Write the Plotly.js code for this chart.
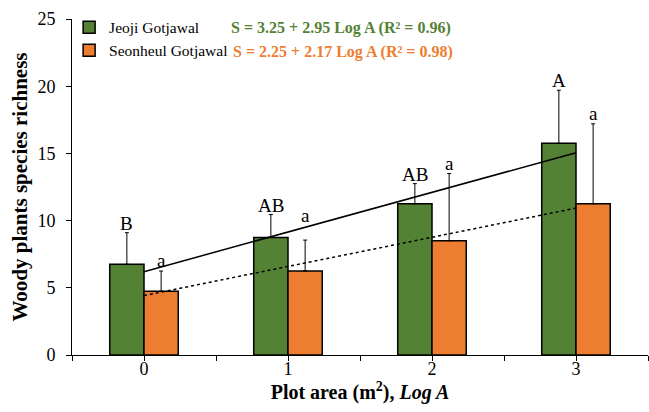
<!DOCTYPE html>
<html>
<head>
<meta charset="utf-8">
<script src="https://cdn.plot.ly/plotly-3.0.1.min.js"></script>
<style>html,body{margin:0;padding:0;background:#fff;}#chart{width:649px;height:412px;}</style>
</head>
<body>
<div id="chart"></div>
<script>
// ---- data ----
const categories = [0, 1, 2, 3];
const tickLabels = ['0', '1', '2', '3'];
const seriesNames = ['Jeoji Gotjawal', 'Seonheul Gotjawal'];
const jeojiValues = [6.75, 8.75, 11.25, 15.75];
const jeojiErrors = [2.35, 1.7, 1.5, 3.95];
const seonheulValues = [4.75, 6.25, 8.5, 11.25];
const seonheulErrors = [1.5, 2.3, 5.0, 5.95];
const jeojiLetters = ['B', 'AB', 'AB', 'A'];
const seonheulLetters = ['a', 'a', 'a', 'a'];
const trendX = [0, 3];
const jeojiTrend = [6.2, 15.05];
const seonheulTrend = [4.42, 10.93];
const jeojiEquation = 'S = 3.25 + 2.95 Log A (R² = 0.96)';
const seonheulEquation = 'S = 2.25 + 2.17 Log A (R² = 0.98)';

// ---- styles ----
const GREEN = '#548235';
const ORANGE = '#ED7D31';
const FONT = 'Liberation Serif';
const BW = 0.238;

const zeros = categories.map(() => 0);

const traces = [
  {
    type: 'bar', name: seriesNames[0], x: categories, y: jeojiValues,
    width: BW, offset: -BW,
    marker: {color: GREEN, line: {color: 'black', width: 1.5}},
    error_y: {type: 'data', symmetric: false, array: jeojiErrors, arrayminus: zeros,
              color: 'black', thickness: 1, width: 2}
  },
  {
    type: 'bar', name: seriesNames[1], x: categories, y: seonheulValues,
    width: BW, offset: 0,
    marker: {color: ORANGE, line: {color: 'black', width: 1.5}},
    error_y: {type: 'data', symmetric: false, array: seonheulErrors, arrayminus: zeros,
              color: 'black', thickness: 1, width: 2}
  },
  {
    type: 'scatter', mode: 'lines', x: trendX, y: jeojiTrend, showlegend: false,
    line: {color: 'black', width: 1.5}, hoverinfo: 'skip'
  },
  {
    type: 'scatter', mode: 'lines', x: trendX, y: seonheulTrend, showlegend: false,
    line: {color: 'black', width: 1.5, dash: 'dot'}, hoverinfo: 'skip'
  }
];

const annotations = [];
categories.forEach((c, i) => {
  annotations.push({
    x: c - BW / 2, y: jeojiValues[i] + jeojiErrors[i], xref: 'x', yref: 'y',
    text: jeojiLetters[i], showarrow: false, yanchor: 'bottom', yshift: -3,
    font: {family: FONT, size: 19, color: 'black'}
  });
  annotations.push({
    x: c + BW / 2, y: seonheulValues[i] + seonheulErrors[i], xref: 'x', yref: 'y',
    text: seonheulLetters[i], showarrow: false, yanchor: 'bottom', yshift: i === 1 ? 12 : -2,
    font: {family: FONT, size: 19, color: 'black'}
  });
});
annotations.push({
  x: 0.2725, y: 0.973, xref: 'paper', yref: 'paper', xanchor: 'left', yanchor: 'middle',
  text: '<b>' + jeojiEquation + '</b>', showarrow: false,
  font: {family: FONT, size: 16, color: GREEN}
});
annotations.push({
  x: 0.276, y: 0.903, xref: 'paper', yref: 'paper', xanchor: 'left', yanchor: 'middle',
  text: '<b>' + seonheulEquation + '</b>', showarrow: false,
  font: {family: FONT, size: 16, color: ORANGE}
});

const layout = {
  width: 649, height: 412,
  margin: {l: 72, r: 1, t: 19, b: 57},
  paper_bgcolor: 'white', plot_bgcolor: 'white',
  font: {family: FONT, color: 'black', size: 17},
  barmode: 'overlay',
  showlegend: true,
  legend: {x: -0.005, y: 1.025, xanchor: 'left', yanchor: 'top', bgcolor: 'rgba(0,0,0,0)',
           font: {family: FONT, size: 15.5, color: 'black'}},
  xaxis: {
    range: [-0.5, 3.5], tickmode: 'array', tickvals: categories, ticktext: tickLabels,
    showline: true, linecolor: 'black', linewidth: 1, showgrid: false, zeroline: false,
    ticks: 'outside', ticklen: 5, tickcolor: 'black', tickwidth: 1, ticklabelstandoff: -8,
    minor: {ticks: 'outside', dtick: 0.5, tick0: 0, ticklen: 5, tickcolor: 'black', tickwidth: 1, showgrid: false},
    tickfont: {family: FONT, size: 18, color: 'black'},
    title: {text: '<b>Plot area (m<sup>2</sup>), <i>Log A</i></b>', font: {family: FONT, size: 20, color: 'black'}, standoff: 4}
  },
  yaxis: {
    range: [0, 25], tickmode: 'array', tickvals: [0, 5, 10, 15, 20, 25],
    showline: true, linecolor: 'black', linewidth: 1, showgrid: false, zeroline: false,
    ticks: 'outside', ticklen: 5, tickcolor: 'black', tickwidth: 1, ticklabelstandoff: 7,
    tickfont: {family: FONT, size: 18, color: 'black'},
    title: {text: '<b>Woody plants species richness</b>', font: {family: FONT, size: 21, color: 'black'}, standoff: 4}
  },
  annotations: annotations
};

Plotly.newPlot('chart', traces, layout, {displayModeBar: false, staticPlot: true});
</script>
</body>
</html>
